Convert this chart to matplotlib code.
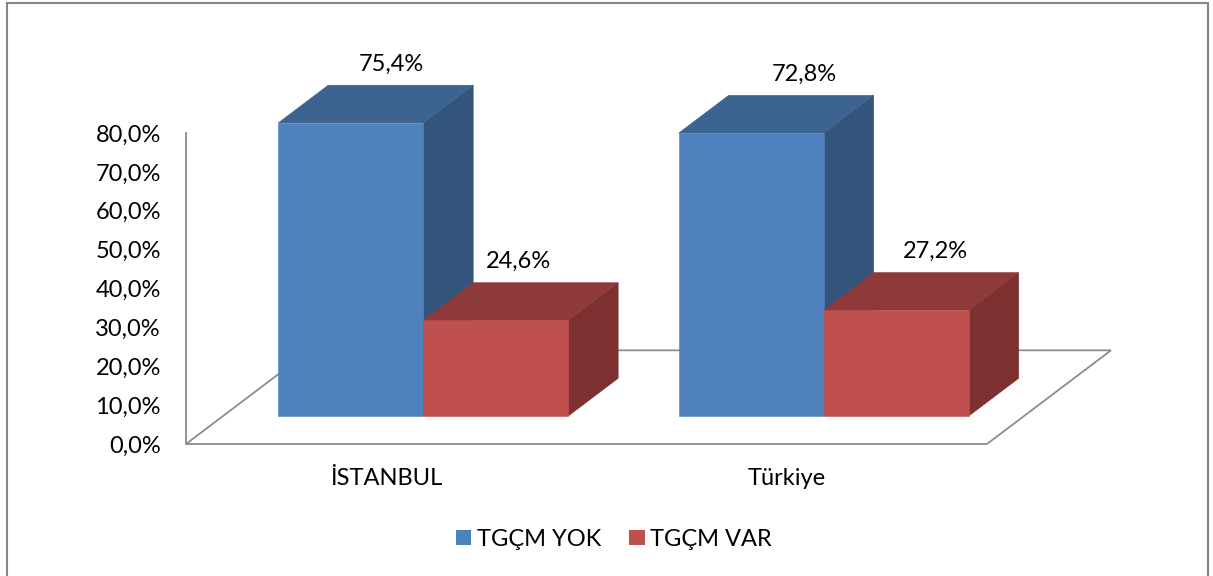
import matplotlib
matplotlib.use("Agg")
import matplotlib.pyplot as plt
from matplotlib.patches import Polygon, Rectangle, Patch

# ---------------- data ----------------
categories = ["İSTANBUL", "Türkiye"]
series_names = ["TGÇM YOK", "TGÇM VAR"]
tgcm_yok = [75.4, 72.8]
tgcm_var = [24.6, 27.2]
y_ticks = [0, 10, 20, 30, 40, 50, 60, 70, 80]

# ---------------- style ----------------
plt.rcParams['font.family'] = ['Lato', 'DejaVu Sans']
FS = 17
front_cols = ["#4F81BD", "#C0504D"]
top_cols = ["#3D6490", "#8E3A3A"]
side_cols = ["#33547B", "#7C3030"]
edge_light = ["#7FA3D3", "#D98582"]
grid_col = "#8C8C8C"

W, H = 1213, 576
fig = plt.figure(figsize=(W / 100, H / 100), dpi=100)

# axes = front plane of the 3-D box
ax = fig.add_axes([186 / W, (576 - 444) / H, 801 / W, 311 / H])
ax.set_xlim(0, len(categories))
ax.set_ylim(0, 80)
ax.patch.set_visible(False)

# depth vector (data units per full floor depth)
DX = 0.3096
DY = 24.1
# bar layout
gap = 0.138
bw = 0.362
d0 = 0.298
dd = 0.403


def shift(x, y, d):
    return (x + DX * d, y + DY * d)


# floor
floor = Polygon([shift(0, 0, 0), shift(len(categories), 0, 0),
                 shift(len(categories), 0, 1), shift(0, 0, 1)],
                closed=True, facecolor="white", edgecolor=grid_col,
                lw=1.3, zorder=1, clip_on=False)
ax.add_patch(floor)

values = [tgcm_yok, tgcm_var]
label_dx = [[0.04, -0.005], [0.07, 0.035]]  # per category, per series

z = 2
for i, cat in enumerate(categories):
    for s in range(len(series_names)):
        v = values[s][i]
        x0 = i + gap + s * bw
        x1 = x0 + bw
        # right side
        side = Polygon([shift(x1, 0, d0), shift(x1, 0, d0 + dd),
                        shift(x1, v, d0 + dd), shift(x1, v, d0)],
                       closed=True, facecolor=side_cols[s],
                       edgecolor=side_cols[s], lw=0.4, zorder=z, clip_on=False)
        top = Polygon([shift(x0, v, d0), shift(x1, v, d0),
                       shift(x1, v, d0 + dd), shift(x0, v, d0 + dd)],
                      closed=True, facecolor=top_cols[s],
                      edgecolor=top_cols[s], lw=0.4, zorder=z, clip_on=False)
        front = Polygon([shift(x0, 0, d0), shift(x1, 0, d0),
                         shift(x1, v, d0), shift(x0, v, d0)],
                        closed=True, facecolor=front_cols[s],
                        edgecolor=front_cols[s], lw=0.4, zorder=z + 1,
                        clip_on=False)
        for p in (side, top, front):
            ax.add_patch(p)
        z += 2
        # value label above the top face
        bx, by = shift((x0 + x1) / 2, v, d0 + dd / 2)
        lx = bx + label_dx[i][s]
        ly = v + DY * (d0 + dd) + 5.4
        ax.text(lx, ly, f"{v:.1f}".replace(".", ",") + "%",
                ha="center", va="center", fontsize=FS, color="black",
                zorder=50, clip_on=False)

# axes styling
for sp in ["top", "right", "bottom"]:
    ax.spines[sp].set_visible(False)
ax.spines["left"].set_color(grid_col)
ax.spines["left"].set_linewidth(1.3)
ax.spines["left"].set_zorder(0.5)
ax.set_yticks(y_ticks)
ax.set_yticklabels([f"{t:.1f}".replace(".", ",") + "%" for t in y_ticks])
ax.set_xticks([i + 0.5 for i in range(len(categories))])
ax.set_xticklabels(categories)
ax.tick_params(axis="y", length=0, pad=18, labelsize=FS)
ax.tick_params(axis="x", length=0, pad=17, labelsize=FS)

# legend
handles = [Patch(facecolor=front_cols[0], edgecolor="none"),
           Patch(facecolor=front_cols[1], edgecolor="none")]
fig.legend(handles, series_names, loc="center", ncol=2, frameon=False,
           fontsize=FS, handlelength=0.64, handleheight=0.61,
           handletextpad=0.25, columnspacing=1.2,
           bbox_to_anchor=(614 / W, 1 - 539 / H))

# chart border
fig.add_artist(Rectangle((7 / W, -0.1), (1208 - 7) / W, (576 - 3) / H + 0.1,
                         transform=fig.transFigure, fill=False,
                         edgecolor="#868686", lw=1.5))

fig.savefig("out.png", dpi=100, facecolor="white")
